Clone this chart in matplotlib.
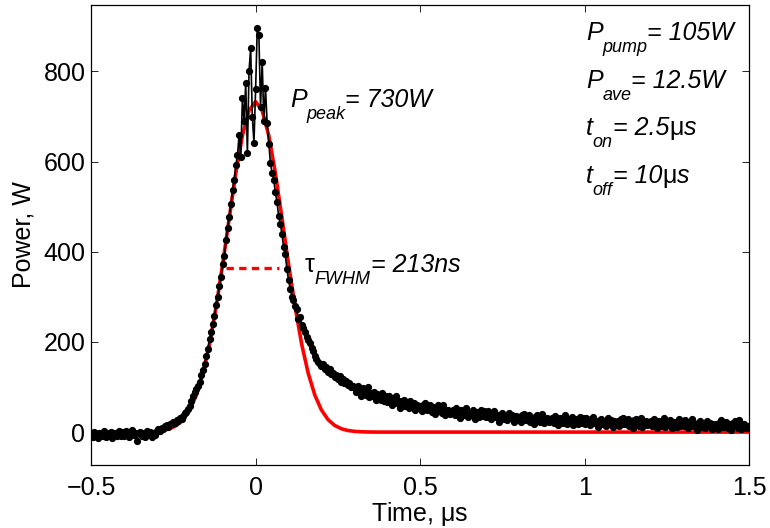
import numpy as np
import matplotlib
matplotlib.use('Agg')
import matplotlib.pyplot as plt

plt.rcParams['font.family'] = ['Liberation Sans', 'DejaVu Sans']
plt.rcParams['mathtext.fontset'] = 'custom'
plt.rcParams['mathtext.rm'] = 'Liberation Sans'
plt.rcParams['mathtext.it'] = 'Liberation Sans:italic'
plt.rcParams['axes.unicode_minus'] = True

time_us = np.round(np.arange(-0.5, 1.5001, 0.005), 3)
power_w = [
    # -0.50 .. -0.405
    -2, -10, 1, -6, -13, -1, -4, -9, 3, -11, -3, -7, 1, -12, -1, -5, -9, 2, -8, 0,
    # -0.40 .. -0.305
    -8, 2, -5, -10, 0, 4, -6, -3, -20, -1, 1, -8, -3, -10, 2, -5, 0, -11, -2, -7,
    # -0.30 .. -0.205
    2, 6, 3, 9, 7, 13, 16, 12, 19, 17, 22, 20, 27, 25, 31, 30, 36, 42, 45, 52,
    # -0.20 .. -0.105
    58, 70, 80, 88, 95, 103, 112, 126, 138, 150, 168, 184, 206, 222, 240, 258, 282, 300, 323, 345,
    # -0.10 .. -0.005
    372, 390, 425, 452, 478, 505, 538, 560, 592, 615, 660, 610, 742, 690, 775, 618, 800, 852, 700, 642,
    # 0.00 .. 0.095
    760, 896, 880, 720, 822, 690, 764, 686, 640, 597, 575, 560, 532, 510, 480, 462, 440, 410, 395, 362,
    # 0.10 .. 0.195
    338, 318, 300, 292, 280, 272, 250, 256, 238, 230, 222, 210, 205, 198, 186, 180, 168, 162, 156, 150,
    # 0.20 .. 0.295
    146, 152, 139, 144, 133, 140, 128, 131, 122, 127, 118, 124, 112, 117, 108, 113, 104, 109, 99, 103,
    # 0.30 .. 0.395
    101, 89, 103, 91, 81, 97, 90, 83, 99, 78, 87, 80, 90, 71, 84, 78, 71, 86, 70, 80,
    # 0.40 .. 0.495
    67, 79, 69, 61, 75, 79, 64, 68, 53, 68, 71, 57, 63, 53, 70, 58, 64, 49, 61, 53,
    # 0.50 .. 0.595
    58, 47, 61, 65, 50, 52, 61, 45, 55, 40, 55, 59, 47, 43, 60, 39, 48, 50, 41, 42,
    # 0.60 .. 0.695
    48, 37, 53, 41, 32, 49, 43, 37, 54, 33, 44, 38, 49, 30, 45, 40, 34, 49, 35, 46,
    # 0.70 .. 0.795
    33, 46, 36, 28, 43, 47, 33, 38, 23, 39, 42, 28, 35, 26, 42, 31, 38, 22, 35, 28,
    # 0.80 .. 0.895
    33, 22, 37, 40, 26, 29, 38, 23, 32, 18, 34, 38, 27, 23, 40, 20, 29, 32, 23, 25,
    # 0.90 .. 0.995
    31, 20, 36, 25, 15, 32, 27, 21, 38, 17, 28, 22, 33, 15, 30, 24, 18, 34, 20, 31,
    # 1.00 .. 1.095
    19, 32, 23, 15, 29, 34, 20, 25, 11, 27, 30, 17, 23, 14, 31, 20, 27, 12, 25, 18,
    # 1.10 .. 1.195
    24, 13, 28, 31, 17, 20, 29, 14, 24, 10, 26, 30, 19, 14, 32, 12, 21, 24, 15, 17,
    # 1.20 .. 1.295
    24, 13, 29, 18, 8, 25, 20, 14, 31, 11, 22, 16, 26, 8, 23, 18, 12, 28, 14, 25,
    # 1.30 .. 1.395
    13, 26, 17, 8, 23, 28, 14, 19, 5, 21, 24, 11, 17, 8, 25, 14, 21, 6, 19, 12,
    # 1.40 .. 1.495
    18, 7, 22, 26, 11, 14, 23, 8, 18, 4, 20, 24, 13, 8, 26, 6, 15, 18, 9, 11,
    # 1.50
    14,
]

# gaussian fit (red)
fit_time_us = [-0.5, -0.40, -0.38, -0.36, -0.34, -0.32, -0.30, -0.28, -0.26, -0.24, -0.22,
               -0.20, -0.18, -0.16, -0.14, -0.12, -0.10, -0.08, -0.06, -0.04, -0.02,
               0.00, 0.02, 0.04, 0.06, 0.08, 0.10, 0.12, 0.14, 0.16, 0.18, 0.20,
               0.22, 0.24, 0.26, 0.28, 0.30, 0.32, 0.34, 0.36, 0.38, 0.40, 1.5]
fit_power_w = [0, 0.01, 0.04, 0.11, 0.3, 0.72, 1.7, 3.6, 7.6, 14.9, 27.8,
               49, 82, 130, 195, 278, 373, 475, 575, 658, 713,
               733, 713, 658, 575, 475, 373, 278, 195, 130, 82, 49,
               27.8, 14.9, 7.6, 3.6, 1.7, 0.72, 0.3, 0.11, 0.04, 0.01, 0]

# FWHM marker
fwhm_time_us = [-0.089, 0.070]
fwhm_power_w = [365, 365]

xticks = [-0.5, 0, 0.5, 1, 1.5]
xtick_labels = ['\u22120.5', '0', '0.5', '1', '1.5']
yticks = [0, 200, 400, 600, 800]

fig = plt.figure(figsize=(7.7, 5.28), dpi=100)
ax = fig.add_axes([0.1182, 0.1193, 0.855, 0.8718])

ax.plot(fit_time_us, fit_power_w, color='red', lw=2.6, zorder=2)
ax.plot(time_us, power_w, color='black', lw=1.2, marker='o', ms=4.2, zorder=3)
ax.plot(fwhm_time_us, fwhm_power_w, color='red', lw=2.4, ls=(0, (2.2, 1.6)), zorder=2)

ax.set_xlim(-0.5, 1.5)
ax.set_ylim(-73, 948)
ax.set_xticks(xticks)
ax.set_xticklabels(xtick_labels)
ax.set_yticks(yticks)
ax.tick_params(direction='in', length=5, width=0.6, top=True, right=True,
               labelsize=18)
ax.tick_params(axis='x', pad=8)
ax.tick_params(axis='y', pad=4)
for s in ax.spines.values():
    s.set_linewidth(0.9)

ax.set_xlabel(r'Time, $\mathrm{\mu}$s', fontsize=18, labelpad=0)
ax.set_ylabel('Power, W', fontsize=18, labelpad=6)


# matlab-like label: pieces of (text, size, style, shift in px), each one
# placed right after the previous one
def put_label(x, y, pieces):
    prev = None
    for txt, size, style, dy in pieces:
        if prev is None:
            prev = ax.text(x, y, txt, fontsize=size, style=style, va='baseline')
        else:
            prev = ax.annotate(txt, xy=(1, y), xycoords=(prev, 'data'),
                               xytext=(0, dy), textcoords='offset pixels',
                               fontsize=size, style=style, va='baseline', ha='left')


SUB = 13
DROP = -12
put_label(0.104, 722, [('P', 18, 'italic', 0), ('peak', SUB, 'italic', DROP),
                       ('= 730W', 18, 'italic', 0)])
put_label(0.150, 355, [('\u03c4', 18, 'normal', 0), ('FWHM', SUB, 'italic', DROP),
                       ('= 213ns', 18, 'italic', 0)])
put_label(1.003, 869, [('P', 18, 'italic', 0), ('pump', SUB, 'italic', DROP),
                       ('= 105W', 18, 'italic', 0)])
put_label(1.003, 764, [('P', 18, 'italic', 0), ('ave', SUB, 'italic', DROP),
                       ('= 12.5W', 18, 'italic', 0)])
put_label(1.003, 659, [('t', 18, 'italic', 0), ('on', SUB, 'italic', DROP),
                       ('= 2.5', 18, 'italic', 0), ('\u03bc', 18, 'normal', 0),
                       ('s', 18, 'italic', 0)])
put_label(1.003, 552, [('t', 18, 'italic', 0), ('off', SUB, 'italic', DROP),
                       ('= 10', 18, 'italic', 0), ('\u03bc', 18, 'normal', 0),
                       ('s', 18, 'italic', 0)])

plt.savefig('out.png', dpi=100)
